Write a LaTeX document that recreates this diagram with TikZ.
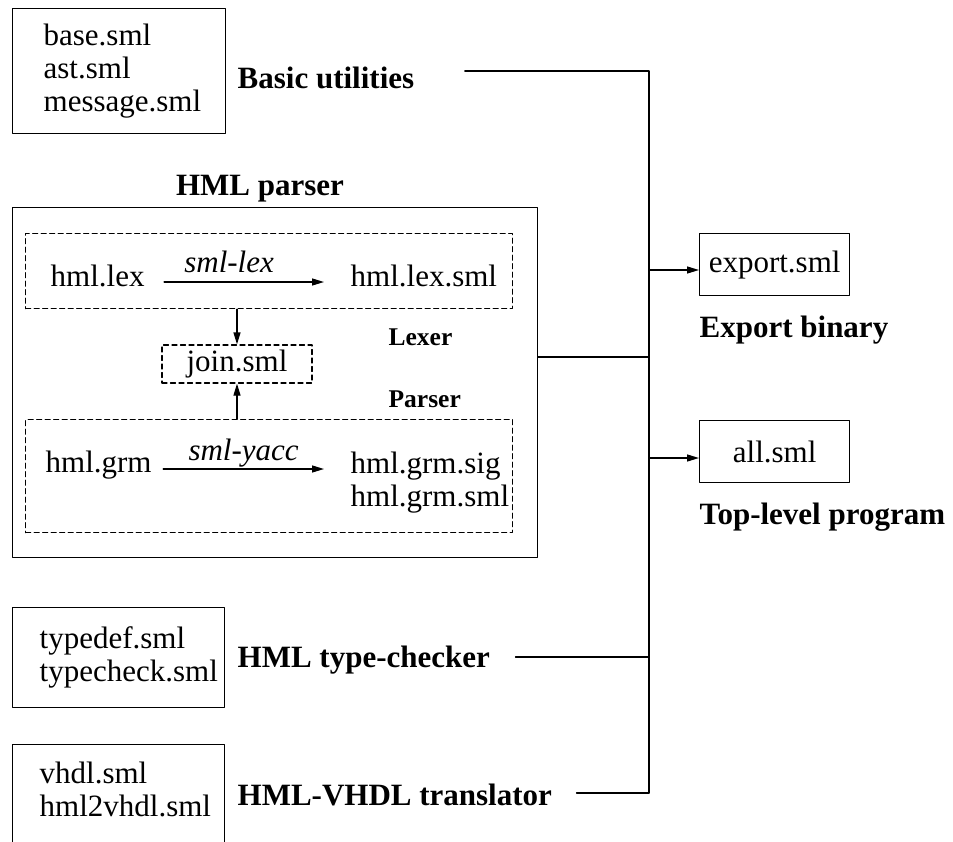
\documentclass[tikz,border=0pt]{standalone}
\usepackage{fontspec}
\setmainfont{Liberation Serif}
\usetikzlibrary{arrows.meta}
\usetikzlibrary{calc}
\tikzstyle{every node}=[font=\fontsize{31}{33}\selectfont,inner sep=0pt]
\tikzstyle{every path}=[line width=1.3pt,line cap=round,line join=round]
\tikzstyle{filebox}=[draw,anchor=north west]
\tikzstyle{stagebox}=[draw,dash pattern=on 5pt off 3.5pt,anchor=north west]
\tikzstyle{files}=[align=left,anchor=west]
\tikzstyle{title}=[font=\fontsize{31}{33}\selectfont\bfseries]
\tikzstyle{subtitle}=[font=\fontsize{25.5}{27}\selectfont\bfseries,anchor=west]
\tikzstyle{flow}=[-{Triangle[length=12pt,width=7pt]}]

\begin{document}
\begin{tikzpicture}[x=1pt,y=-1pt]
  \useasboundingbox (0,0) rectangle (953,841);
  % bus taps
  \coordinate (bustop) at (649,71);
  \coordinate (tapparser) at (649,357);
  \coordinate (tapexport) at (649,270);
  \coordinate (tapall) at (649,458);
  \coordinate (tapcheck) at (649,657);
  \coordinate (tapvhdl) at (649,793);

  % basic utilities
  \node[filebox,minimum width=213pt,minimum height=125pt] (basicbox) at (12,8) {};
  \node[files] (basicfiles) at ($(basicbox.west)+(31pt,0)$) {base.sml\\ast.sml\\message.sml};
  \node[title,anchor=west] (basiclabel) at (237,78) {Basic utilities};

  % HML parser
  \node[title] (parsertitle) at (260,189) {HML parser};
  \node[filebox,minimum width=525pt,minimum height=350pt] (parserbox) at (12,207) {};
  \node[stagebox,minimum width=487pt,minimum height=75pt] (lexbox) at (25,233) {};
  \node[anchor=base west] (lexsrc) at (50,286) {hml.lex};
  \node[anchor=base west] (lexout) at (350,286) {hml.lex.sml};
  \draw[flow] ($(lexsrc.base east)+(19pt,4pt)$) -- ($(lexout.base west)+(-26pt,4pt)$)
    node[midway,anchor=base,yshift=10pt,xshift=-15pt] {\itshape sml-lex};
  \node[stagebox,anchor=center,minimum width=150pt,minimum height=38pt] (join) at (237,364) {join.sml};
  \node[subtitle] (lexlabel) at (388,337) {Lexer};
  \node[subtitle] (grmlabel) at (388,399) {Parser};
  \node[stagebox,minimum width=487pt,minimum height=113pt] (grmbox) at (25,419) {};
  \node[anchor=base west] (grmsrc) at (45,472) {hml.grm};
  \node[anchor=north west,align=left] (grmout) at (350,451) {hml.grm.sig\\hml.grm.sml};
  \draw[flow] ($(grmsrc.base east)+(11pt,3pt)$) -- ($(grmsrc.base -| grmout.west)+(-26pt,3pt)$)
    node[midway,anchor=base,yshift=9pt] {\itshape sml-yacc};
  \draw[flow] (join.north |- lexbox.south) -- (join.north);
  \draw[flow] (join.south |- grmbox.north) -- (join.south);

  % type-checker and translator
  \node[filebox,minimum width=212pt,minimum height=100pt] (checkbox) at (12,607) {};
  \node[files] (checkfiles) at ($(checkbox.west)+(27pt,0)$) {typedef.sml\\typecheck.sml};
  \node[title,anchor=west] (checklabel) at (237,660) {HML type-checker};
  \node[filebox,minimum width=212pt,minimum height=120pt] (vhdlbox) at (12,744) {};
  \node[files] (vhdlfiles) at (39,789) {vhdl.sml\\hml2vhdl.sml};
  \node[title,anchor=west] (vhdllabel) at (237,795) {HML-VHDL translator};

  % outputs
  \node[filebox,minimum width=150pt,minimum height=62pt] (exportbox) at (699,233) {export.sml};
  \node[title,anchor=north west] (exportlabel) at ($(exportbox.south west)+(0,-19pt)$) {Export binary};
  \node[filebox,minimum width=150pt,minimum height=62pt] (allbox) at (699,420) {all.sml};
  \node[title,anchor=north west] (alllabel) at ($(allbox.south west)+(0,-19pt)$) {Top-level program};

  % wiring
  \draw ($(basiclabel.east |- bustop)+(50pt,0)$) -- (bustop) -- (tapvhdl);
  \draw (tapparser -| parserbox.east) -- (tapparser);
  \draw ($(checklabel.east |- tapcheck)+(25pt,0)$) -- (tapcheck);
  \draw ($(vhdllabel.east |- tapvhdl)+(24pt,0)$) -- (tapvhdl);
  \draw[flow] (tapexport) -- (tapexport -| exportbox.west);
  \draw[flow] (tapall) -- (tapall -| allbox.west);
\end{tikzpicture}
\end{document}
